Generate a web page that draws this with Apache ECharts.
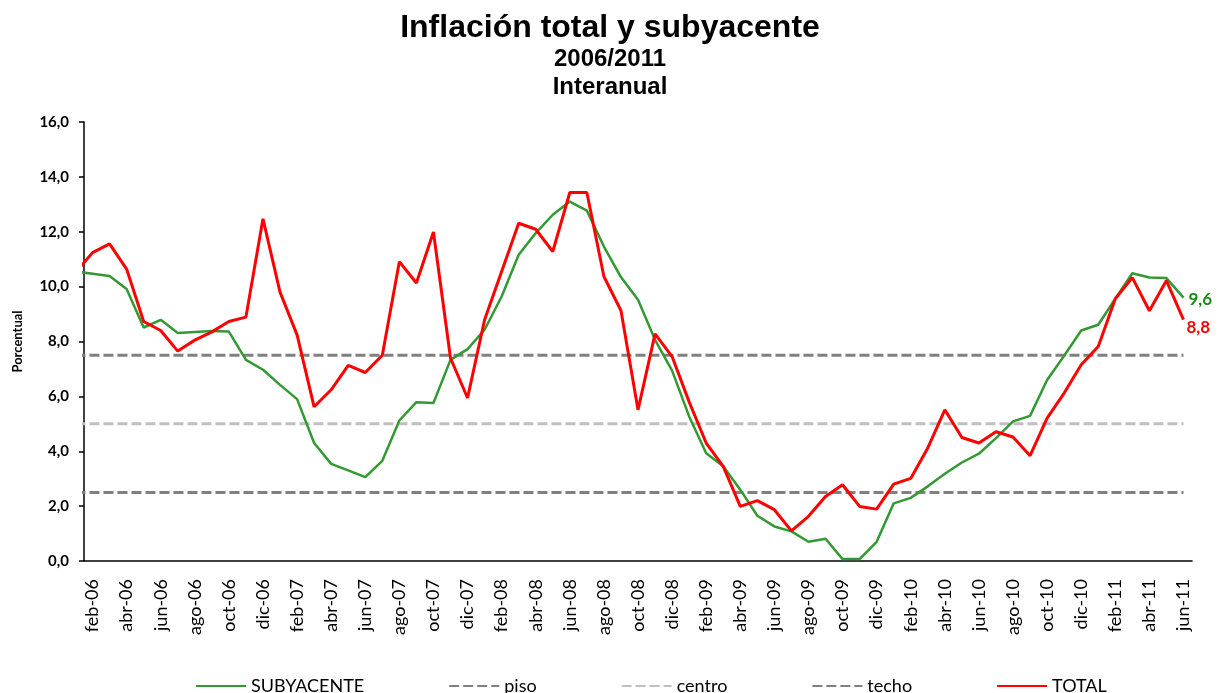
<!DOCTYPE html>
<html>
<head>
<meta charset="utf-8">
<title>Inflación total y subyacente</title>
<script src="https://cdn.jsdelivr.net/npm/echarts@6.0.0/dist/echarts.min.js"></script>
<style>
  html, body { margin: 0; padding: 0; background: #fff; }
  #chart { width: 1220px; height: 693px; }
</style>
</head>
<body>
<div id="chart"></div>
<script>
// meses feb-06 .. jun-11
const categories = [
  "feb-06", "mar-06", "abr-06", "may-06", "jun-06", "jul-06", "ago-06", "sep-06", "oct-06", "nov-06", "dic-06",
  "ene-07", "feb-07", "mar-07", "abr-07", "may-07", "jun-07", "jul-07", "ago-07", "sep-07", "oct-07", "nov-07", "dic-07",
  "ene-08", "feb-08", "mar-08", "abr-08", "may-08", "jun-08", "jul-08", "ago-08", "sep-08", "oct-08", "nov-08", "dic-08",
  "ene-09", "feb-09", "mar-09", "abr-09", "may-09", "jun-09", "jul-09", "ago-09", "sep-09", "oct-09", "nov-09", "dic-09",
  "ene-10", "feb-10", "mar-10", "abr-10", "may-10", "jun-10", "jul-10", "ago-10", "sep-10", "oct-10", "nov-10", "dic-10",
  "ene-11", "feb-11", "mar-11", "abr-11", "may-11", "jun-11",
];

const subyacente = [
  10.47, 10.39, 9.91, 8.51, 8.79, 8.31, 8.35, 8.38, 8.36, 7.33, 6.97,
  6.42, 5.90, 4.30, 3.54, 3.30, 3.06, 3.65, 5.12, 5.79, 5.76, 7.33, 7.72,
  8.43, 9.64, 11.16, 11.95, 12.62, 13.10, 12.77, 11.46, 10.35, 9.52, 8.06, 6.94,
  5.27, 3.93, 3.45, 2.60, 1.65, 1.26, 1.08, 0.70, 0.81, 0.07, 0.07, 0.70,
  2.10, 2.30, 2.72, 3.18, 3.59, 3.91, 4.48, 5.09, 5.29, 6.60, 7.48, 8.40,
  8.61, 9.56, 10.49, 10.33, 10.31, 9.6,
];

const total = [
  11.24, 11.56, 10.64, 8.73, 8.40, 7.65, 8.05, 8.35, 8.73, 8.89, 12.47,
  9.80, 8.24, 5.62, 6.24, 7.13, 6.87, 7.50, 10.91, 10.13, 11.99, 7.40, 5.94,
  8.79, 10.55, 12.31, 12.09, 11.28, 13.43, 13.43, 10.37, 9.13, 5.51, 8.28, 7.45,
  5.80, 4.30, 3.45, 1.99, 2.20, 1.87, 1.10, 1.63, 2.35, 2.78, 1.99, 1.89,
  2.80, 3.01, 4.12, 5.51, 4.50, 4.30, 4.71, 4.52, 3.84, 5.21, 6.12, 7.15,
  7.82, 9.56, 10.33, 9.12, 10.22, 8.8,
];

// ene-06, el punto anterior que entra cortado por el eje
const subyacenteEne06 = 10.55;
const totalEne06 = 10.51;

// bandas de la meta
const piso = 2.5;
const centro = 5.0;
const techo = 7.5;

const yTicks = [0, 2, 4, 6, 8, 10, 12, 14, 16];

const fmt = (v) => Number(v).toFixed(1).replace(".", ",");

function lineData(values, lead) {
  const data = [[-1, lead]];
  values.forEach((v, i) => data.push([i, v]));
  return data;
}

function bandData(level) {
  return lineData(categories.map(() => level), level);
}

const chart = echarts.init(document.getElementById("chart"));

const titleFont = { fontFamily: "Liberation Sans", fontWeight: "bold", color: "#000" };

const option = {
  animation: false,
  backgroundColor: "#fff",
  title: [
    {
      text: "Inflación total y subyacente",
      left: "center",
      top: 12,
      padding: 0,
      textStyle: { ...titleFont, fontSize: 32 },
    },
    {
      text: "2006/2011",
      left: "center",
      top: 47,
      padding: 0,
      textStyle: { ...titleFont, fontSize: 24 },
    },
    {
      text: "Interanual",
      left: "center",
      top: 75,
      padding: 0,
      textStyle: { ...titleFont, fontSize: 24 },
    },
  ],
  legend: {
    data: ["SUBYACENTE", "piso", "centro", "techo", "TOTAL"],
    left: 190,
    top: 672,
    itemWidth: 50,
    itemHeight: 14,
    itemGap: 84,
    itemStyle: { opacity: 0 },
    textStyle: { fontFamily: "Lato", fontSize: 18, color: "#000" },
  },
  grid: {
    left: 84,
    right: 28,
    top: 122,
    bottom: 132,
    containLabel: false,
  },
  xAxis: [
    {
      type: "category",
      data: categories,
      boundaryGap: true,
      axisLine: { lineStyle: { color: "#000", width: 1.5 } },
      axisTick: { interval: 1, length: 6, lineStyle: { color: "#000", width: 1.5 } },
      axisLabel: {
        interval: 1,
        rotate: 90,
        margin: 18,
        fontFamily: "Lato",
        fontSize: 18,
        color: "#000",
      },
      splitLine: { show: false },
    },
    {
      // eje oculto para ubicar las series (incluye ene-06 fuera del área)
      type: "value",
      min: -0.5,
      max: categories.length - 0.5,
      show: false,
    },
  ],
  yAxis: {
    type: "value",
    min: yTicks[0],
    max: yTicks[yTicks.length - 1],
    interval: 2,
    name: "Porcentual",
    nameLocation: "middle",
    nameGap: 60,
    nameTextStyle: { fontFamily: "Lato", fontWeight: "bold", fontSize: 13, color: "#000" },
    axisLine: { show: true, onZero: false, lineStyle: { color: "#000", width: 1.5 } },
    axisTick: { show: true, length: 5, lineStyle: { color: "#000", width: 1.5 } },
    axisLabel: {
      margin: 15,
      fontFamily: "Lato",
      fontWeight: "bold",
      fontSize: 15,
      color: "#000",
      formatter: (v) => fmt(v),
    },
    splitLine: { show: false },
  },
  series: [
    {
      name: "SUBYACENTE",
      type: "line",
      xAxisIndex: 1,
      z: 3,
      symbol: "none",
      color: "#339933",
      lineStyle: { color: "#339933", width: 2.5 },
      endLabel: {
        show: true,
        distance: 5,
        offset: [0, 2],
        formatter: (p) => fmt(p.value[1]),
        fontFamily: "Lato",
        fontWeight: "bold",
        fontSize: 17,
        color: "#1a8c1a",
      },
      data: lineData(subyacente, subyacenteEne06),
    },
    {
      name: "piso",
      type: "line",
      xAxisIndex: 1,
      z: 1,
      symbol: "none",
      color: "#808080",
      lineStyle: { color: "#808080", width: 3, type: [10, 4] },
      data: bandData(piso),
    },
    {
      name: "centro",
      type: "line",
      xAxisIndex: 1,
      z: 1,
      symbol: "none",
      color: "#c0c0c0",
      lineStyle: { color: "#c0c0c0", width: 3, type: [10, 4] },
      data: bandData(centro),
    },
    {
      name: "techo",
      type: "line",
      xAxisIndex: 1,
      z: 1,
      symbol: "none",
      color: "#808080",
      lineStyle: { color: "#808080", width: 3, type: [10, 4] },
      data: bandData(techo),
    },
    {
      name: "TOTAL",
      type: "line",
      xAxisIndex: 1,
      z: 4,
      symbol: "none",
      color: "#ff0000",
      lineStyle: { color: "#ff0000", width: 3 },
      endLabel: {
        show: true,
        distance: 3,
        offset: [0, 8],
        formatter: (p) => fmt(p.value[1]),
        fontFamily: "Lato",
        fontWeight: "bold",
        fontSize: 17,
        color: "#ff0000",
      },
      data: lineData(total, totalEne06),
    },
  ],
};

chart.setOption(option);
</script>
</body>
</html>
